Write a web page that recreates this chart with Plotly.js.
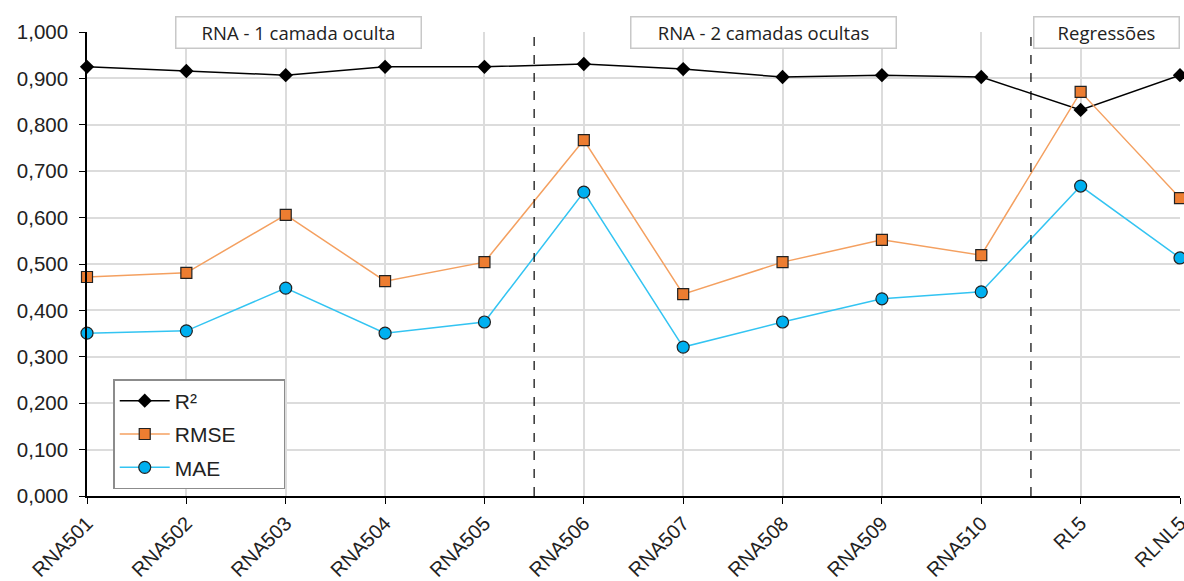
<!DOCTYPE html>
<html>
<head>
<meta charset="utf-8">
<script src="https://cdn.plot.ly/plotly-3.0.1.min.js"></script>
<style>html,body{margin:0;padding:0;background:#fff;}#chart{width:1184px;height:581px;}</style>
</head>
<body>
<div id="chart"></div>
<script>
const categories = ["RNA501","RNA502","RNA503","RNA504","RNA505","RNA506","RNA507","RNA508","RNA509","RNA510","RL5","RLNL5"];
const r2   = [0.925,0.916,0.907,0.925,0.925,0.931,0.920,0.903,0.907,0.903,0.832,0.907];
const rmse = [0.472,0.481,0.606,0.463,0.504,0.767,0.435,0.504,0.552,0.519,0.871,0.642];
const mae  = [0.351,0.356,0.448,0.351,0.375,0.655,0.321,0.375,0.425,0.440,0.668,0.513];
const seriesNames = ["R²","RMSE","MAE"];
const groupLabels = ["RNA - 1 camada oculta","RNA - 2 camadas ocultas","Regressões"];
const groupCenters = [2.13, 6.81, 10.26];
const groupBoxWidths = [240, 260, 140];
const dividers = [4.5, 9.5];

const font = "Liberation Sans, Arial, sans-serif";
const pad = "\u00A0".repeat(14);
const traces = [
  {x: categories, y: r2, name: seriesNames[0] + pad, legendgroup: "a", type: "scatter", mode: "lines+markers",
   line: {color: "#000000", width: 1.5},
   marker: {symbol: "diamond", size: 11, color: "#000000"}, cliponaxis: false},
  {x: categories, y: rmse, name: seriesNames[1], legendgroup: "b", type: "scatter", mode: "lines+markers",
   line: {color: "#f4a060", width: 1.5},
   marker: {symbol: "square", size: 11, color: "#ed7d31", line: {color: "#222222", width: 1.2}}, cliponaxis: false},
  {x: categories, y: mae, name: seriesNames[2], legendgroup: "c", type: "scatter", mode: "lines+markers",
   line: {color: "#33c4f2", width: 1.5},
   marker: {symbol: "circle", size: 12, color: "#00b0f0", line: {color: "#222222", width: 1.2}}, cliponaxis: false}
];

const shapes = dividers.map(d => ({type: "line", xref: "x", yref: "paper", x0: d, x1: d, y0: 0, y1: 1.005,
  line: {color: "#000", width: 1.2, dash: "dash"}}));
const annotations = groupLabels.map((t, i) => ({text: t, x: groupCenters[i], xref: "x", y: 1.0, yref: "paper",
  showarrow: false, font: {family: "Open Sans, Noto Sans, sans-serif", size: 18.5, color: "#222"},
  width: groupBoxWidths[i], height: 26, align: "center",
  bgcolor: "#ffffff", bordercolor: "#c8c8c8", borderwidth: 1.5, borderpad: 2, xanchor: "center", yanchor: "middle"}));

const layout = {
  width: 1184, height: 581,
  margin: {l: 87, r: 4, t: 32, b: 85},
  paper_bgcolor: "#fff", plot_bgcolor: "#fff",
  separators: ",.",
  font: {family: font, size: 20, color: "#222"},
  showlegend: true,
  legend: {x: 0.024, y: 0.252, xanchor: "left", yanchor: "top", bgcolor: "#fff", tracegroupgap: 3,
    itemwidth: 50,
    bordercolor: "#8c8c8c", borderwidth: 1.5, font: {family: font, size: 21, color: "#222"}},
  xaxis: {type: "category", range: [0, 11], showgrid: true, gridcolor: "#dcdcdc", gridwidth: 1.5,
    showline: true, linecolor: "#000", linewidth: 1.5, ticks: "outside", ticklen: 6, tickcolor: "#000",
    tickangle: -45, tickfont: {family: font, size: 20, color: "#222"}, zeroline: false},
  yaxis: {range: [0, 1], dtick: 0.1, tickformat: ".3f", showgrid: true, gridcolor: "#dcdcdc", gridwidth: 1.5,
    showline: true, linecolor: "#000", linewidth: 1.5, ticks: "outside", ticklen: 6, tickcolor: "#000",
    ticklabelstandoff: 7,
    tickfont: {family: font, size: 20.5, color: "#222"}, zeroline: false},
  shapes: shapes,
  annotations: annotations
};
Plotly.newPlot("chart", traces, layout, {displayModeBar: false});
</script>
</body>
</html>
